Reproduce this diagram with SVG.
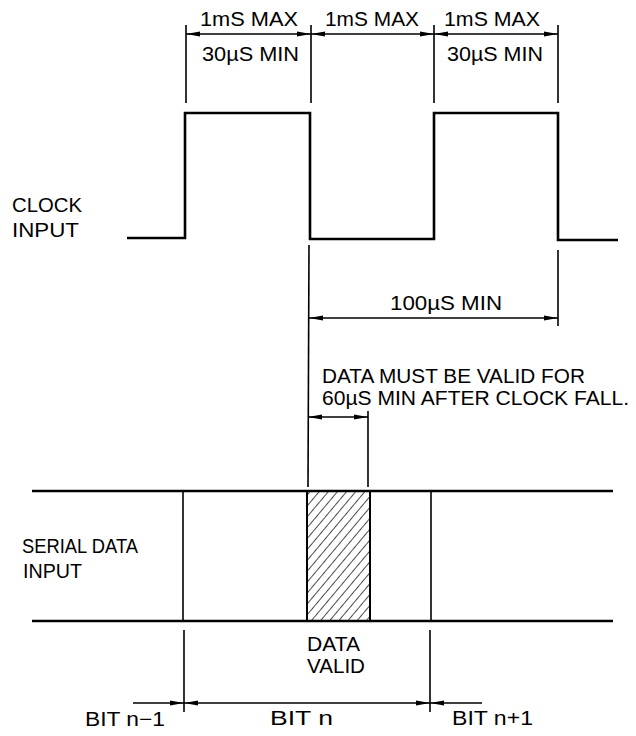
<svg xmlns="http://www.w3.org/2000/svg" width="636" height="736" viewBox="0 0 636 736">
<style>
text{font-family:"Liberation Sans",Arial,sans-serif;font-size:20px;fill:#000}
.wave{fill:none;stroke:#000;stroke-width:2.6;stroke-linejoin:miter}
.ext{stroke:#000;stroke-width:1.6;fill:none}
.dim{stroke:#000;stroke-width:1.6;fill:none;marker-start:url(#arr);marker-end:url(#arr)}
.dimE{stroke:#000;stroke-width:1.6;fill:none;marker-end:url(#arr)}
.dimS{stroke:#000;stroke-width:1.6;fill:none;marker-start:url(#arr)}
</style>
<defs>
<marker id="arr" markerUnits="userSpaceOnUse" markerWidth="14" markerHeight="6" refX="14" refY="3" orient="auto-start-reverse">
<path d="M0,0.5 L14,3 L0,5.5 z" fill="#000"/>
</marker>
<pattern id="hatch" patternUnits="userSpaceOnUse" width="7" height="7" patternTransform="rotate(40)">
<line x1="0" y1="0" x2="0" y2="7" stroke="#000" stroke-width="1.4"/>
</pattern>
</defs>
<rect width="636" height="736" fill="#fff"/>

<g id="clock-input">
<path class="wave" d="M127,238 L185,238 L185,113 L310,113 L310,239 L434,239 L434,113 L558,113 L558,240 L618,240"/>
<text x="12" y="212" textLength="70" lengthAdjust="spacingAndGlyphs">CLOCK</text>
<text x="12" y="237" textLength="67" lengthAdjust="spacingAndGlyphs">INPUT</text>
</g>

<g id="serial-data-input">
<line class="wave" x1="32" y1="491" x2="613" y2="491" stroke-width="2.2"/>
<line class="wave" x1="32" y1="621" x2="613" y2="621" stroke-width="2.2"/>
<line class="ext" x1="183" y1="491" x2="183" y2="621" stroke-width="2"/>
<line class="ext" x1="431" y1="491" x2="431" y2="621" stroke-width="2"/>
<text x="22" y="553" textLength="116" lengthAdjust="spacingAndGlyphs">SERIAL DATA</text>
<text x="23" y="578" textLength="59" lengthAdjust="spacingAndGlyphs">INPUT</text>
</g>

<g id="data-valid">
<rect x="307" y="491" width="63" height="130" fill="url(#hatch)" stroke="#000" stroke-width="2"/>
<text x="307" y="651" textLength="53" lengthAdjust="spacingAndGlyphs">DATA</text>
<text x="307" y="673" textLength="58" lengthAdjust="spacingAndGlyphs">VALID</text>
</g>

<g id="connectors">
<line class="ext" x1="186" y1="25" x2="186" y2="103"/>
<line class="ext" x1="311" y1="25" x2="311" y2="103"/>
<line class="ext" x1="434" y1="25" x2="434" y2="103"/>
<line class="ext" x1="558" y1="25" x2="558" y2="103"/>
<line class="dim" x1="186" y1="34" x2="311" y2="34"/>
<line class="dim" x1="311" y1="34" x2="434" y2="34"/>
<line class="dim" x1="434" y1="34" x2="558" y2="34"/>
<line class="ext" x1="309" y1="245" x2="308" y2="487"/>
<line class="ext" x1="558" y1="250" x2="558" y2="326"/>
<line class="dim" x1="309" y1="318" x2="558" y2="318"/>
<line class="ext" x1="368" y1="411" x2="368" y2="487"/>
<line class="dim" x1="308" y1="417" x2="368" y2="417"/>
<line class="ext" x1="184" y1="630" x2="184" y2="712"/>
<line class="ext" x1="430" y1="630" x2="430" y2="712"/>
<line class="dimE" x1="133" y1="703" x2="184" y2="703"/>
<line class="dim" x1="184" y1="703" x2="430" y2="703"/>
<line class="dimS" x1="430" y1="703" x2="482" y2="703"/>
</g>

<g id="labels">
<text x="200" y="26" textLength="98" lengthAdjust="spacingAndGlyphs">1mS  MAX</text>
<text x="325" y="26" textLength="94" lengthAdjust="spacingAndGlyphs">1mS  MAX</text>
<text x="444" y="26" textLength="96" lengthAdjust="spacingAndGlyphs">1mS  MAX</text>
<text x="202" y="61" textLength="97" lengthAdjust="spacingAndGlyphs">30µS MIN</text>
<text x="447" y="61" textLength="96" lengthAdjust="spacingAndGlyphs">30µS MIN</text>
<text x="390" y="310" textLength="112" lengthAdjust="spacingAndGlyphs">100µS MIN</text>
<text x="322" y="383" textLength="263" lengthAdjust="spacingAndGlyphs">DATA MUST BE VALID FOR</text>
<text x="322" y="405" textLength="307" lengthAdjust="spacingAndGlyphs">60µS  MIN AFTER CLOCK FALL.</text>
<text x="85" y="726" textLength="80" lengthAdjust="spacingAndGlyphs">BIT n−1</text>
<text x="270" y="725" textLength="63" lengthAdjust="spacingAndGlyphs">BIT  n</text>
<text x="452" y="725" textLength="81" lengthAdjust="spacingAndGlyphs">BIT n+1</text>
</g>
</svg>
